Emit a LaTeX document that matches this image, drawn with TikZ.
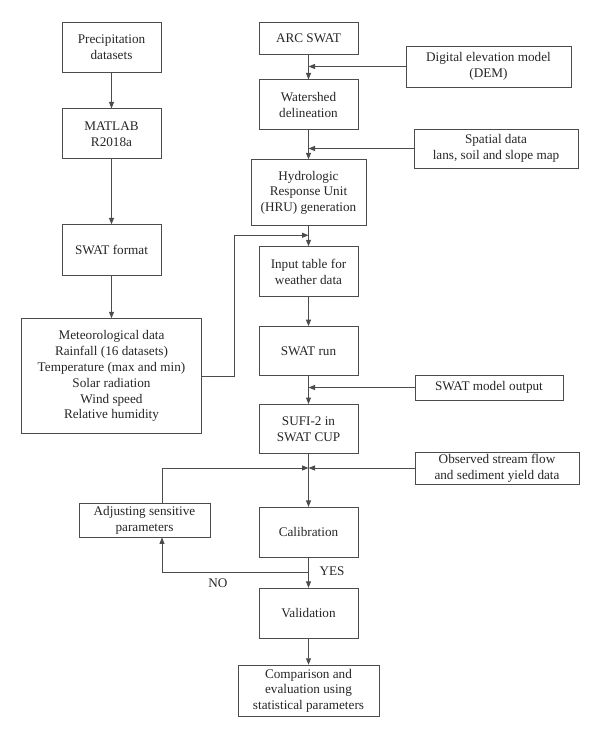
\documentclass[tikz,border=0pt]{standalone}
\usepackage{fontspec}
\setmainfont{Liberation Serif}
\usepackage{tikz}
\usetikzlibrary{shapes,arrows.meta,positioning}
\tikzset{
  flowbox/.style = {rectangle, draw=black!70, line width=0.9pt, align=center,
    inner sep=0pt, text=black!85, minimum width=99pt, minimum height=50pt},% boite normale
  sidebox/.style = {flowbox, minimum width=164pt},% boite de donnees a droite
  link/.style = {draw=black!70, line width=0.9pt}
}

\begin{document}
\begin{tikzpicture}[x=1pt,y=-1pt,>={Triangle[length=6.5pt,width=5pt]},
    font=\fontsize{13.2pt}{15.8pt}\selectfont, node distance=30pt]
        \useasboundingbox (0,0) rectangle (600,731);
        % colonne de gauche
        \node [flowbox](prec) at (111.5,47) {Precipitation\\datasets};
        \node [flowbox, below=36pt of prec](matlab) {MATLAB\\R2018a};
        \node [flowbox, minimum height=51pt, below=65pt of matlab](swatfmt) {SWAT format};
        \node [flowbox, minimum width=180pt, minimum height=115pt, below=42pt of swatfmt](met)
            {Meteorological data\\Rainfall (16 datasets)\\Temperature (max and min)\\Solar radiation\\Wind speed\\Relative humidity};
        % colonne principale
        \node [flowbox, minimum height=32pt](arc) at (308.5,38) {ARC SWAT};
        \node [flowbox, below=25pt of arc](wshed) {Watershed\\delineation};
        \node [flowbox, minimum width=115pt, minimum height=66pt, below=29pt of wshed](hru)
            {Hydrologic\\Response Unit\\(HRU) generation};
        \node [flowbox, below=20pt of hru](input) {Input table for\\weather data};
        \node [flowbox, minimum height=49pt, below=29pt of input](run) {SWAT run};
        \node [flowbox, minimum height=49pt, below=28pt of run](sufi) {SUFI-2 in\\SWAT CUP};
        \node [flowbox, below=53pt of sufi](calib) {Calibration};
        \node [flowbox, below=30pt of calib](valid) {Validation};
        \node [flowbox, minimum width=141pt, minimum height=51pt, below=26pt of valid](comp)
            {Comparison and\\evaluation using\\statistical parameters};
        % donnees a droite
        \node [sidebox, minimum width=165pt, minimum height=41pt](dem) at (488.5,66.5)
            {Digital elevation model\\(DEM)};
        \node [sidebox, minimum height=39pt](spatial) at (496,148.5)
            {Spatial data\\lans, soil and slope map};
        \node [sidebox, minimum width=148pt, minimum height=25pt](smo) at (489,387.5) {SWAT model output};
        \node [sidebox, minimum height=32pt](obs) at (497,468)
            {Observed stream flow\\and sediment yield data};
        \node [flowbox, minimum width=131pt, minimum height=34pt](adj) at (144.5,520)
            {Adjusting sensitive\\parameters};
        \node [text=black!85](yes) at (332,571) {YES};
        \node [text=black!85](no) at (218,583) {NO};

        \foreach \a/\b in {prec/matlab, matlab/swatfmt, swatfmt/met, arc/wshed, wshed/hru,
            hru/input, input/run, run/sufi, sufi/calib, calib/valid, valid/comp}
            \draw [link,->] (\a) -- (\b);
        \foreach \s in {dem, spatial, smo, obs}
            \draw [link,->] (\s.west) -- (\s.west -| arc);
        \draw [link,->] (met.east) -- ++(32,0) |- ([yshift=-9pt]hru.south);
        \draw [link,->] ([xshift=17.5pt]adj.north) |- (obs.west -| sufi);
        \coordinate (split) at ([yshift=-15pt]calib.south);
        \draw [link,->] (split) -| ([xshift=17.5pt]adj.south);
\end{tikzpicture}
\end{document}
